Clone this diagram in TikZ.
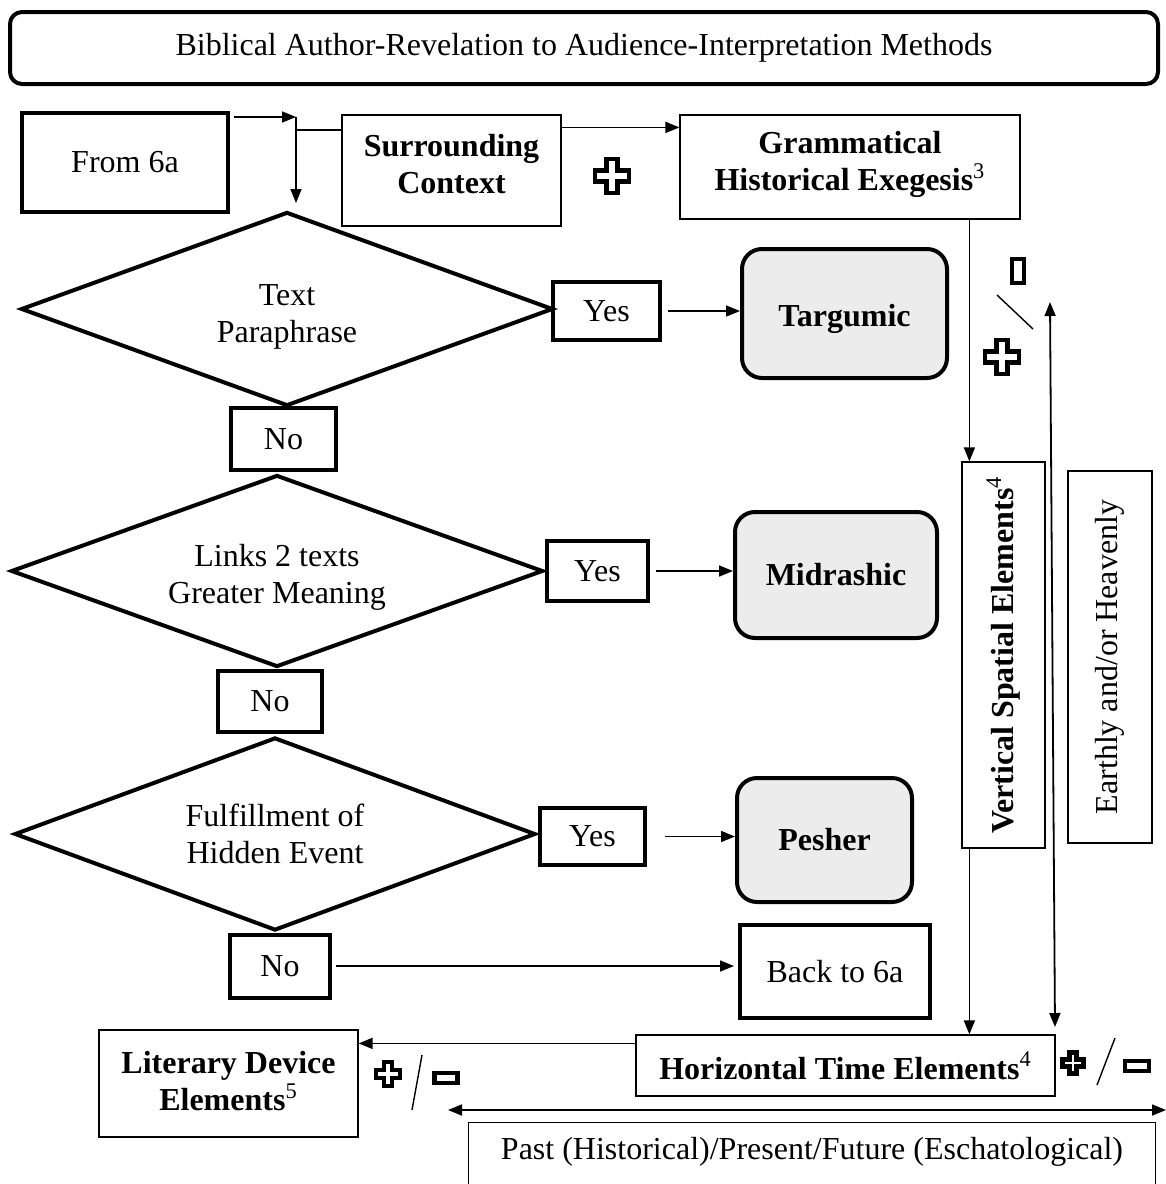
\documentclass[tikz,border=0pt]{standalone}
\usepackage{fontspec}
\setmainfont{Liberation Serif}
\usetikzlibrary{shapes.geometric,arrows.meta}

\newcommand{\diagfont}{\fontsize{16}{18.5}\selectfont}

\tikzset{
  arr/.style={-{Triangle[length=7pt,width=5.5pt]}, line width=0.8pt},
  dbl/.style={{Triangle[length=7pt,width=5.5pt]}-{Triangle[length=7pt,width=5.5pt]}, line width=0.9pt},
  plussign/.pic={
    \draw[line width=2.3pt, fill=white, pic actions]
      (-0.33,-1) -- (0.33,-1) -- (0.33,-0.33) -- (1,-0.33) -- (1,0.33)
      -- (0.33,0.33) -- (0.33,1) -- (-0.33,1) -- (-0.33,0.33) -- (-1,0.33)
      -- (-1,-0.33) -- (-0.33,-0.33) -- cycle;
  },
}

\begin{document}
\begin{tikzpicture}[x=0.5pt, y=-0.5pt,
    every node/.style={font=\diagfont, align=center, inner sep=0pt}]

  \useasboundingbox (0,0) rectangle (1166,1184);

  % heavy frames
  \begin{scope}[every node/.append style={draw, line width=2pt}]
    \node[rounded corners=6pt, minimum width=574pt, minimum height=36pt] (title) at (584,48)
      {Biblical Author-Revelation to Audience-Interpretation Methods};
    \node[minimum width=103pt, minimum height=49.5pt] (from) at (125,162) {From 6a};

    \node[diamond, aspect=2.7, minimum width=266pt, minimum height=97pt, text height=37pt] (d1) at (287,309) {Text\\Paraphrase};
    \node[diamond, aspect=2.7, minimum width=266pt, minimum height=96pt, text height=36pt] (d2) at (277,571) {Links 2 texts\\Greater Meaning};
    \node[diamond, aspect=2.7, minimum width=260.5pt, minimum height=96.5pt] (d3) at (275,834) {Fulfillment of\\Hidden Event};

    \node[minimum width=53.5pt, minimum height=29pt] (yes1) at (606.5,311) {Yes};
    \node[minimum width=50.5pt, minimum height=30pt] (yes2) at (597.5,571) {Yes};
    \node[minimum width=52.5pt, minimum height=28.5pt] (yes3) at (592.5,836.5) {Yes};

    \node[minimum width=52.5pt, minimum height=31pt] (no1) at (283.5,439) {No};
    \node[minimum width=52pt, minimum height=30.5pt] (no2) at (270,701) {No};
    \node[minimum width=50pt, minimum height=31.5pt] (no3) at (280,966) {No};

    \node[minimum width=95pt, minimum height=46.5pt] (back) at (835,971.5) {Back to 6a};

    \begin{scope}[every node/.append style={rounded corners=10pt, fill=gray!15,
        font=\diagfont\bfseries}]
      \node[minimum width=102.5pt, minimum height=64.5pt, text height=17pt] (targ) at (844.5,313.5) {Targumic};
      \node[minimum width=101pt, minimum height=63pt] (mid) at (836,575) {Midrashic};
      \node[minimum width=87.5pt, minimum height=62pt] (pesh) at (824.5,840) {Pesher};
    \end{scope}
  \end{scope}

  % thin frames
  \begin{scope}[every node/.append style={draw, line width=0.6pt}]
    \node[minimum width=109.5pt, minimum height=55.5pt, text depth=7pt, font=\diagfont\bfseries] (surr) at (451.5,170.5)
      {Surrounding\\Context};
    \node[minimum width=170pt, minimum height=52pt, text depth=6pt, font=\diagfont\bfseries] (gram) at (850,167)
      {Grammatical\\Historical Exegesis\textsuperscript{\mdseries 3}};
    \node[rotate=90, minimum width=193pt, minimum height=41.5pt, font=\diagfont\bfseries] (vert) at (1003.5,655)
      {Vertical Spatial Elements\textsuperscript{\mdseries 4}};
    \node[rotate=90, minimum width=186pt, minimum height=42pt] (earth) at (1110,657)
      {Earthly and/or Heavenly};
    \node[minimum width=209.5pt, minimum height=30.5pt, font=\diagfont\bfseries] (horiz) at (845.5,1065.5)
      {Horizontal Time Elements\textsuperscript{\mdseries 4}};
    \node[minimum width=129.5pt, minimum height=53.5pt, text depth=2.5pt, font=\diagfont\bfseries] (lit) at (228.5,1083.5)
      {Literary Device\\Elements\textsuperscript{\mdseries 5}};
  \end{scope}

  % open box at the foot
  \node[minimum width=343pt, minimum height=29pt] (past) at (812,1152)
    {Past (Historical)/Present/Future (Eschatological)};
  \coordinate (foot) at (0,1184);
  \draw[line width=0.6pt] (past.west |- foot) -- (past.north west) -- (past.north east) -- (past.east |- foot);

  % entry from 6a
  \coordinate (jn) at (296,117);
  \coordinate (jc) at (296,130);
  \draw[arr, shorten <=2pt] (from.east |- jn) -- (jn);
  \draw[arr, shorten >=3.5pt] (jn) -- (jn |- d1.north);
  \draw[line width=0.8pt] (jc) -- (jc -| surr.west);
  \draw[arr] ([yshift=-6.5pt]surr.north east) -- ([yshift=-6.5pt]surr.north east -| gram.west);

  \begin{scope}[every edge/.style={draw, arr}]
    \path (yes1.east) edge[shorten <=3pt] (yes1.east -| targ.west);
    \path (yes2.east) edge[shorten <=3pt] (yes2.east -| mid.west);
    \path (yes3.east) edge[shorten <=9pt] (yes3.east -| pesh.west);
    \path (no3.east) edge[shorten <=2pt, shorten >=2pt] (no3.east -| back.west);
  \end{scope}

  % spatial and time axis
  \coordinate (vtop) at ([xshift=4pt]vert.north east);
  \coordinate (vbot) at ([xshift=4pt]vert.north west);
  \draw[arr] (gram.south -| vtop) -- (vtop);
  \draw[arr] (vbot) -- (vbot |- horiz.north);
  \draw[arr] ([yshift=-4.5pt]horiz.north west) -- ([yshift=-4.5pt]horiz.north west -| lit.east);

  \coordinate (up) at (1050,302);
  \coordinate (dn) at (1055,1027);
  \draw[dbl] (up) -- (dn);
  \coordinate (lf) at (448,1110);
  \coordinate (rt) at (1166,1110);
  \draw[dbl] (lf) -- (rt);

  % plus / minus marks
  \pic[scale=17] at (612,176) {plussign};
  \pic[scale=17] at (1002,357) {plussign};
  \pic[scale=12] at (388,1074) {plussign};
  \pic[scale=10.5] at (1073,1063) {plussign};

  \begin{scope}[every node/.append style={draw, line width=2.3pt}]
    \node[minimum width=6pt, minimum height=12pt] (m1) at (1018,271) {};
    \node[minimum width=11.5pt, minimum height=5pt] (m2) at (446,1078) {};
    \node[minimum width=12pt, minimum height=5pt] (m3) at (1137,1066) {};
  \end{scope}

  \draw[line width=0.7pt] (997,295) -- (1033,329);
  \draw[line width=0.7pt] (412,1110) -- (422,1055);
  \draw[line width=0.7pt] (1097,1085) -- (1115,1038);

\end{tikzpicture}
\end{document}
